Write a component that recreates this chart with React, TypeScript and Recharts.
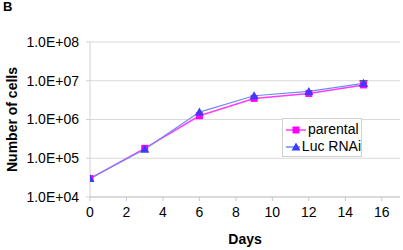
import React from 'react'
import {
  LineChart, Line, XAxis, YAxis, CartesianGrid, Label, ErrorBar,
} from 'recharts'

const days = [0, 3, 6, 9, 12, 15]
const parental = [3.0e4, 1.8e5, 1.25e6, 3.5e6, 4.7e6, 7.8e6]
const lucRnai = [3.0e4, 1.7e5, 1.55e6, 4.1e6, 5.3e6, 8.6e6]
const lucErr = [0, 0, 0, 0, 0, 1.3e6]
const xTicks = [0, 2, 4, 6, 8, 10, 12, 14, 16]
const yTicks = [1e4, 1e5, 1e6, 1e7, 1e8]

const data = days.map((d, i) => ({
  day: d,
  parental: parental[i],
  luc: lucRnai[i],
  lucErr: lucErr[i],
}))

const FONT = '"Liberation Sans", Arial, sans-serif'
const PINK = '#FF00FF'
const PINK_LINE = '#FF3CFF'
const BLUE = '#3C3CF5'
const BLUE_LINE = '#6A8FEA'

function formatExp(v: number) {
  const e = Math.round(Math.log10(v))
  return `1.0E+${String(e).padStart(2, '0')}`
}

function SquareDot(props: any) {
  const { cx, cy } = props
  if (cx == null || cy == null) return null
  return <rect x={cx - 3.5} y={cy - 3.5} width={7} height={7} fill={PINK} />
}

function TriangleDot(props: any) {
  const { cx, cy } = props
  if (cx == null || cy == null) return null
  return <polygon points={`${cx},${cy - 4.5} ${cx + 4.5},${cy + 3.5} ${cx - 4.5},${cy + 3.5}`} fill={BLUE} />
}

function LegendBox() {
  const rows = [
    { name: 'parental', line: PINK_LINE, marker: 'sq' },
    { name: 'Luc RNAi', line: BLUE_LINE, marker: 'tri' },
  ]
  return (
    <div style={{
      position: 'absolute', left: 282, top: 118, width: 80, height: 39, boxSizing: 'border-box',
      border: '1px solid #d0d0d0', background: '#fff', padding: '2px 0 0 3px',
      fontFamily: FONT, fontSize: 14, color: '#000', lineHeight: '17px', whiteSpace: 'nowrap',
    }}>
      {rows.map((r) => (
        <div key={r.name} style={{ display: 'flex', alignItems: 'center' }}>
          <svg width={20} height={12} style={{ marginRight: 2 }}>
            <line x1={0} y1={6} x2={20} y2={6} stroke={r.line} strokeWidth={1.5} />
            {r.marker === 'sq'
              ? <rect x={6.5} y={2.5} width={7} height={7} fill={PINK} />
              : <polygon points="10,1.5 14.5,9.5 5.5,9.5" fill={BLUE} />}
          </svg>
          <span>{r.name}</span>
        </div>
      ))}
    </div>
  )
}

export default function App() {
  return (
    <div style={{ position: 'absolute', left: 0, top: 0, width: 403, height: 250, background: '#fff' }}>
      <div style={{ position: 'absolute', left: 3, top: -1, fontFamily: FONT, fontWeight: 'bold', fontSize: 13 }}>B</div>
      <LineChart width={403} height={250} data={data} margin={{ top: 42, right: 3, bottom: 0, left: 0 }}>
        <CartesianGrid vertical={false} stroke="#d9d9d9" />
        <XAxis
          dataKey="day"
          type="number"
          domain={[0, 17]}
          ticks={xTicks}
          allowDataOverflow
          height={53}
          stroke="#c8c8c8"
          tickSize={4}
          tickMargin={6}
          tick={{ fontFamily: FONT, fontSize: 14, fill: '#000' }}
        >
          <Label value="Days" position="insideBottom" offset={6}
            style={{ fontFamily: FONT, fontSize: 14, fontWeight: 'bold', fill: '#000' }} />
        </XAxis>
        <YAxis
          scale="log"
          domain={[1e4, 1e8]}
          ticks={yTicks}
          allowDataOverflow
          width={90}
          stroke="#d0d0d0"
          tickSize={4}
          tickMargin={7}
          tickFormatter={formatExp}
          tick={{ fontFamily: FONT, fontSize: 14, fill: '#000' }}
        >
          <Label value="Number of cells" angle={-90} position="insideLeft" offset={12}
            style={{ fontFamily: FONT, fontSize: 14, fontWeight: 'bold', fill: '#000', textAnchor: 'middle' }} />
        </YAxis>
        <Line
          dataKey="parental"
          name="parental"
          stroke={PINK_LINE}
          strokeWidth={1.5}
          dot={<SquareDot />}
          activeDot={false}
          isAnimationActive={false}
        />
        <Line
          dataKey="luc"
          name="Luc RNAi"
          stroke={BLUE_LINE}
          strokeWidth={1.2}
          dot={<TriangleDot />}
          activeDot={false}
          isAnimationActive={false}
        >
          <ErrorBar dataKey="lucErr" width={4} stroke="#000" strokeWidth={1} direction="y" />
        </Line>
      </LineChart>
      <LegendBox />
    </div>
  )
}
